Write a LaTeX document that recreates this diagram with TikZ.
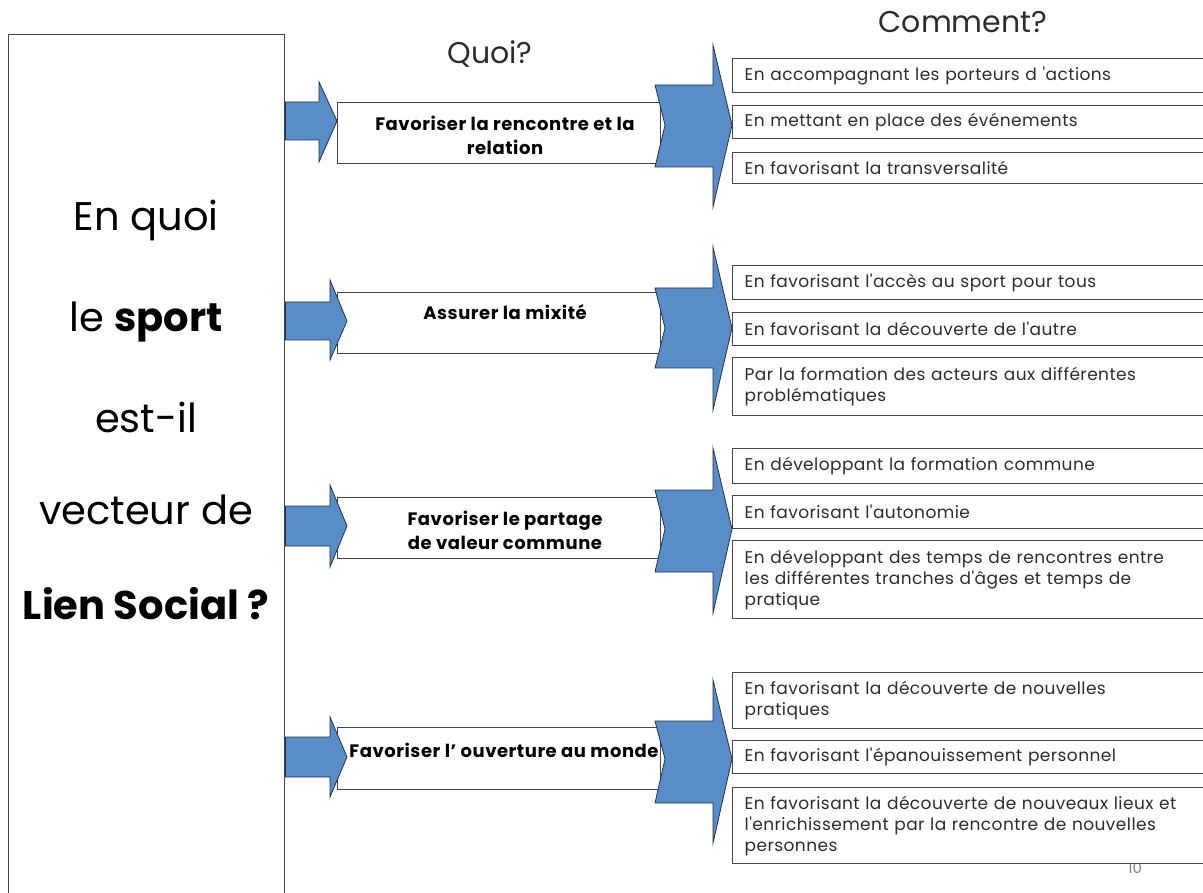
\documentclass[tikz,border=0pt]{standalone}
\usepackage{fontspec}
\setmainfont{Poppins}[Ligatures=TeXOff]
\definecolor{arrowblue}{RGB}{88,141,199}
\definecolor{arrowedge}{RGB}{35,50,75}
\definecolor{framegray}{RGB}{70,70,70}
\definecolor{textgray}{RGB}{45,45,45}

% small arrow: shaft top/bottom, head top/bottom, head base x, tip x
\newcommand{\smallarrow}[6]{%
  \path[chevron] (lbox.east |- 0,#1) -- (#5,#1) -- (#5,#3) -- (#6,{(#1+#2)/2})
    -- (#5,#4) -- (#5,#2) -- (lbox.east |- 0,#2) -- cycle;}
% notched arrow: shaft top/bottom, head top/bottom, tip y
\newcommand{\notcharrow}[5]{%
  \path[chevron] (655,#1) -- (713,#1) -- (713,#3) -- (732,#5) -- (713,#4)
    -- (713,#2) -- (655,#2) -- (665,#5) -- cycle;}

\begin{document}
\begin{tikzpicture}[x=1pt,y=-1pt,
  frame/.style={draw=framegray,line width=1.4pt,fill=white},
  item/.style={frame,anchor=north west,minimum width=483pt,text width=459pt,
    inner xsep=12pt,inner ysep=1pt,align=left,text=textgray,
    font=\addfontfeatures{LetterSpace=2.5}\fontsize{17}{21}\selectfont},
  goal/.style={frame,anchor=north west,minimum width=323pt,inner sep=0pt},
  goaltext/.style={align=center,text=black,
    font=\addfontfeatures{LetterSpace=3}\bfseries\fontsize{18}{24}\selectfont},
  bigline/.style={anchor=base,text=black,font=\fontsize{40}{42}\selectfont},
  title/.style={anchor=base,text=textgray,font=\fontsize{30}{32}\selectfont},
  chevron/.style={fill=arrowblue,draw=arrowedge,line width=0.8pt,line join=miter}]

\useasboundingbox (0,0) rectangle (1203,893);
\clip (0,0) rectangle (1203,893);

% question column
\node[frame,anchor=north west,minimum width=276pt,minimum height=880pt,inner sep=0pt]
  (lbox) at (8,34) {};
\node[bigline] (q1) at (146,231) {En quoi};
\node[bigline] (q2) at (146,332) {le \textbf{sport}};
\node[bigline] (q3) at (146,432) {est-il};
\node[bigline] (q4) at (146,524) {vecteur de};
\node[bigline] (q5) at (146,619) {\textbf{Lien Social ?}};

% column headings
\node[title] (quoi) at (490,64) {Quoi?};
\node[title] (comment) at (963,33) {Comment?};

% page number, partly hidden by the last box
\node[anchor=base,text=gray,font=\fontsize{15}{17}\selectfont] (page) at (1135,873) {10};

% objectives
\node[goal,minimum height=61pt] (g1) at (337,102) {};
\node[goal,minimum height=61pt] (g2) at (337,292) {};
\node[goal,minimum height=61pt] (g3) at (337,497) {};
\node[goal,minimum height=62pt] (g4) at (337,727) {};

\smallarrow{102}{140}{82}{162}{319}{337}
\smallarrow{302}{340}{280}{360}{330}{347}
\smallarrow{506}{546}{485}{567}{330}{347}
\smallarrow{737}{777}{717}{797}{330}{347}

\node[goaltext] (t1) at (505,135) {Favoriser la rencontre et la\\relation};
\node[goaltext] (t2) at (505,312) {Assurer la mixité};
\node[goaltext] (t3) at (505,530) {Favoriser le partage\\de valeur commune};
\node[goaltext] (t4) at (504,750) {Favoriser l’ ouverture au monde};

\notcharrow{85}{167}{45}{207}{125}
\notcharrow{288}{368}{247}{410}{328}
\notcharrow{490}{572}{448}{613}{529}
\notcharrow{721}{803}{680}{843}{759}

% means
\node[item,minimum height=34pt] (a1) at (732,58) {En accompagnant les porteurs d 'actions};
\node[item,minimum height=33pt] (a2) at (732,105) {En mettant en place des événements};
\node[item,minimum height=31pt] (a3) at (732,152) {En favorisant la transversalité};

\node[item,minimum height=34pt] (b1) at (732,265) {En favorisant l'accès au sport pour tous};
\node[item,minimum height=33pt] (b2) at (732,312) {En favorisant la découverte de l'autre};
\node[item,minimum height=58pt] (b3) at (732,357) {Par la formation des acteurs aux différentes\\problématiques};

\node[item,minimum height=35pt] (c1) at (732,448) {En développant la formation commune};
\node[item,minimum height=33pt] (c2) at (732,495) {En favorisant l'autonomie};
\node[item,minimum height=78pt] (c3) at (732,540) {En développant des temps de rencontres entre\\les différentes tranches d'âges et temps de\\pratique};

\node[item,minimum height=56pt] (d1) at (732,672) {En favorisant la découverte de nouvelles\\pratiques};
\node[item,minimum height=33pt] (d2) at (732,740) {En favorisant l'épanouissement personnel};
\node[item,minimum height=76pt] (d3) at (732,787) {En favorisant la découverte de nouveaux lieux et\\l'enrichissement par la rencontre de nouvelles\\personnes};
\end{tikzpicture}
\end{document}
